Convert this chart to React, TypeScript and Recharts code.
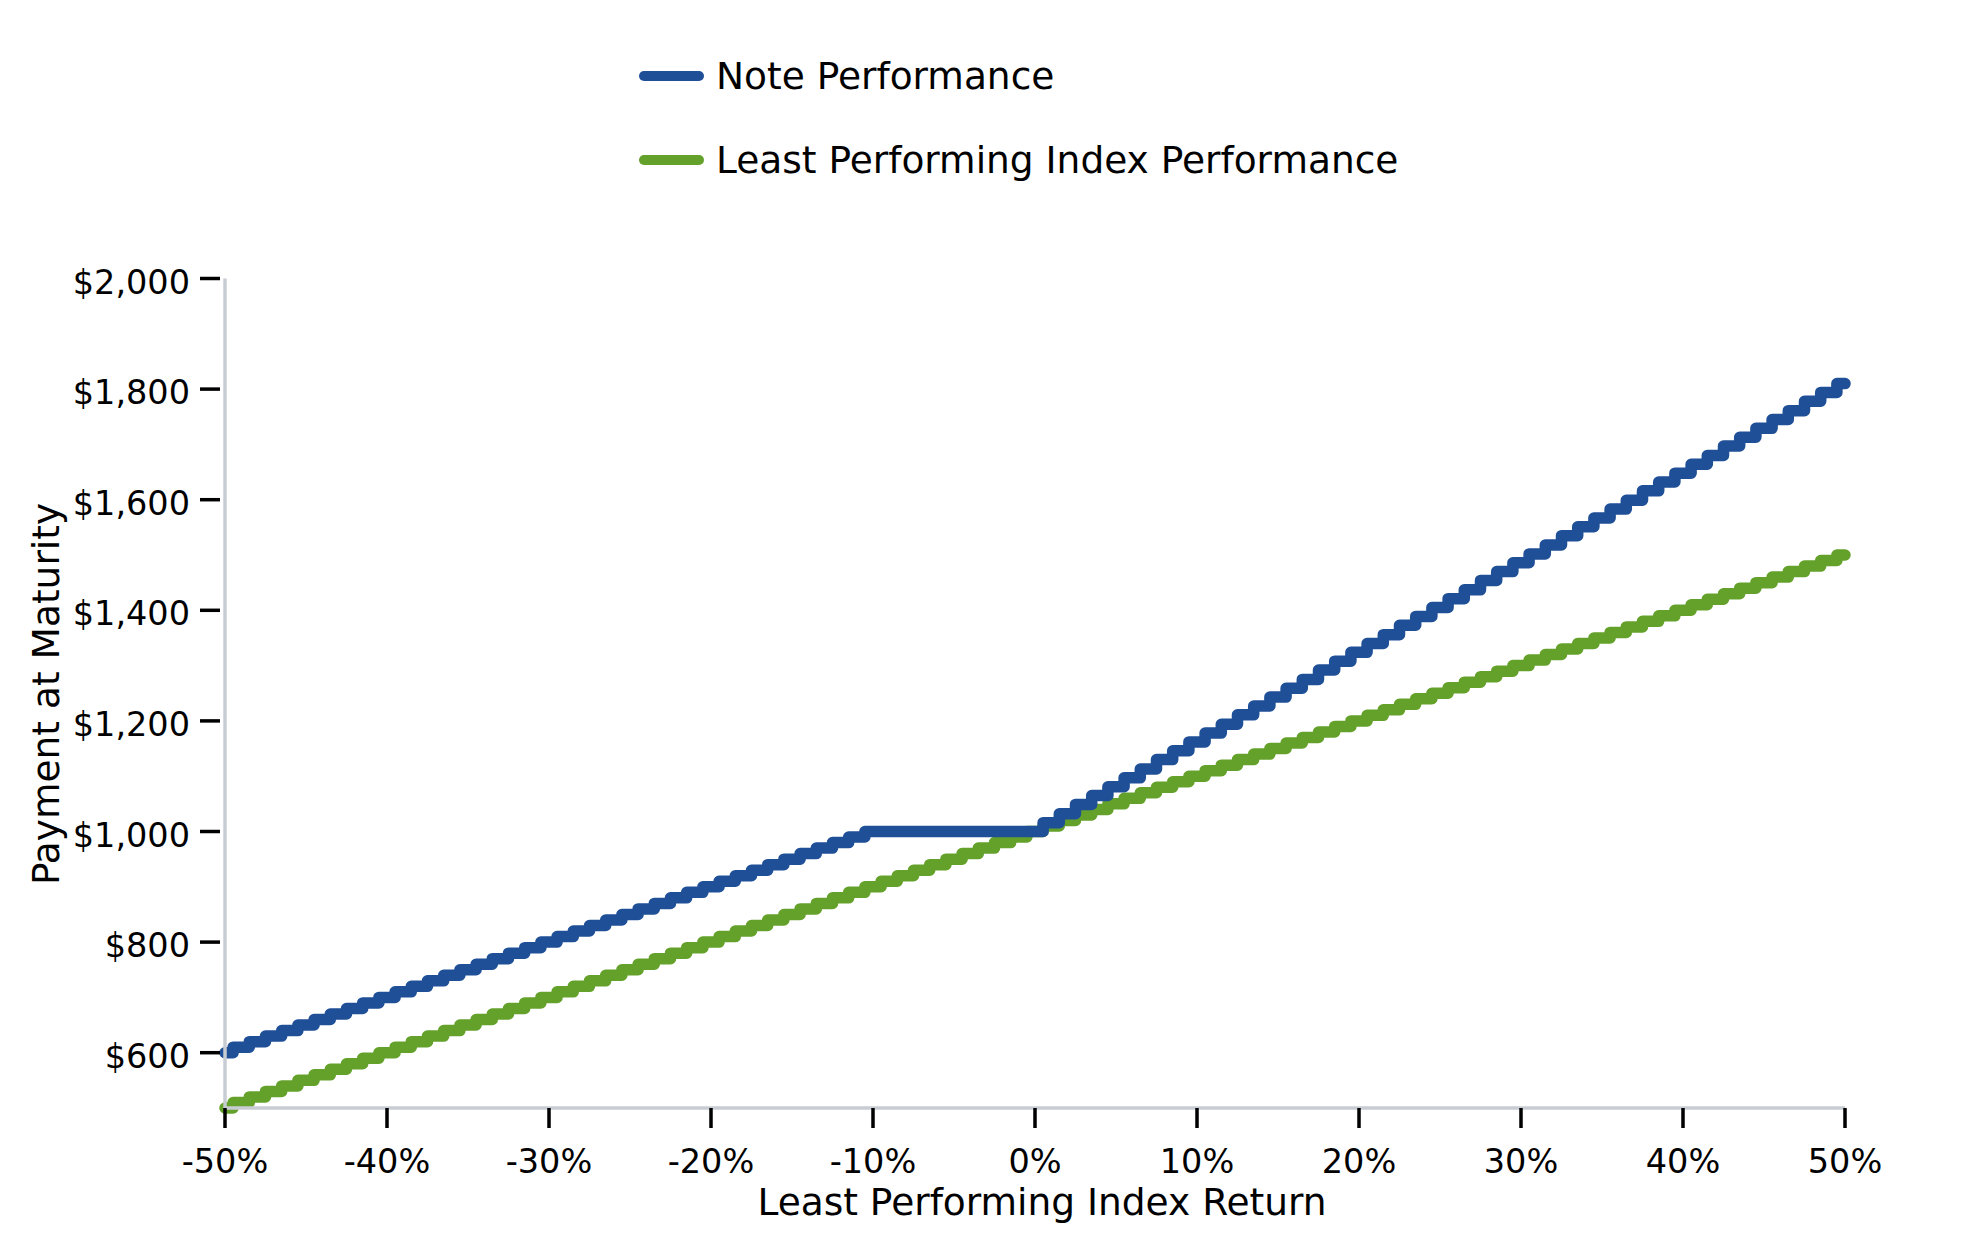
import React from "react";
import { LineChart, Line, XAxis, YAxis, Legend, Label } from "recharts";

// Least performing index return, in percent
const returns = [
  -50, -49, -48, -47, -46, -45, -44, -43, -42, -41,
  -40, -39, -38, -37, -36, -35, -34, -33, -32, -31,
  -30, -29, -28, -27, -26, -25, -24, -23, -22, -21,
  -20, -19, -18, -17, -16, -15, -14, -13, -12, -11,
  -10, -9, -8, -7, -6, -5, -4, -3, -2, -1,
  0, 1, 2, 3, 4, 5, 6, 7, 8, 9,
  10, 11, 12, 13, 14, 15, 16, 17, 18, 19,
  20, 21, 22, 23, 24, 25, 26, 27, 28, 29,
  30, 31, 32, 33, 34, 35, 36, 37, 38, 39,
  40, 41, 42, 43, 44, 45, 46, 47, 48, 49,
  50,
];

const notePayment = [
  600, 610, 620, 630, 640, 650, 660, 670, 680, 690,
  700, 710, 720, 730, 740, 750, 760, 770, 780, 790,
  800, 810, 820, 830, 840, 850, 860, 870, 880, 890,
  900, 910, 920, 930, 940, 950, 960, 970, 980, 990,
  1000, 1000, 1000, 1000, 1000, 1000, 1000, 1000, 1000, 1000,
  1000, 1016, 1032, 1049, 1065, 1081, 1097, 1113, 1130, 1146,
  1162, 1178, 1194, 1211, 1227, 1243, 1259, 1275, 1292, 1308,
  1324, 1340, 1356, 1373, 1389, 1405, 1421, 1437, 1454, 1470,
  1486, 1502, 1518, 1535, 1551, 1567, 1583, 1599, 1616, 1632,
  1648, 1664, 1680, 1697, 1713, 1729, 1745, 1761, 1778, 1794,
  1810,
];

const indexPayment = [
  500, 510, 520, 530, 540, 550, 560, 570, 580, 590,
  600, 610, 620, 630, 640, 650, 660, 670, 680, 690,
  700, 710, 720, 730, 740, 750, 760, 770, 780, 790,
  800, 810, 820, 830, 840, 850, 860, 870, 880, 890,
  900, 910, 920, 930, 940, 950, 960, 970, 980, 990,
  1000, 1010, 1020, 1030, 1040, 1050, 1060, 1070, 1080, 1090,
  1100, 1110, 1120, 1130, 1140, 1150, 1160, 1170, 1180, 1190,
  1200, 1210, 1220, 1230, 1240, 1250, 1260, 1270, 1280, 1290,
  1300, 1310, 1320, 1330, 1340, 1350, 1360, 1370, 1380, 1390,
  1400, 1410, 1420, 1430, 1440, 1450, 1460, 1470, 1480, 1490,
  1500,
];

const xTicks = [-50, -40, -30, -20, -10, 0, 10, 20, 30, 40, 50];
const yTicks = [600, 800, 1000, 1200, 1400, 1600, 1800, 2000];

const BLUE = "#1f4f97";
const GREEN = "#63a12a";
const SPINE = "#c8cdd3";
const FONT = "DejaVu Sans";

const legendItems = [
  { name: "Note Performance", color: BLUE },
  { name: "Least Performing Index Performance", color: GREEN },
];

const data = returns.map((r, i) => ({
  ret: r,
  note: notePayment[i],
  index: indexPayment[i],
}));

function fmtMoney(v: number) {
  return "$" + v.toLocaleString("en-US");
}

function YTick(props: any) {
  const { x, y, payload } = props;
  return (
    <text x={x} y={y + 15} textAnchor="end" fontFamily={FONT} fontSize={33.5} fill="#000">
      {fmtMoney(payload.value)}
    </text>
  );
}

function XTick(props: any) {
  const { x, y, payload } = props;
  return (
    <text x={x} y={y + 24} textAnchor="middle" fontFamily={FONT} fontSize={33.5} fill="#000">
      {payload.value}%
    </text>
  );
}

function renderLegend() {
  return (
    <svg width={900} height={200}>
      {legendItems.map((item, i) => {
        const cy = 76 + i * 84;
        return (
          <g key={item.name}>
            <line x1={44} x2={99} y1={cy} y2={cy} stroke={item.color} strokeWidth={10} strokeLinecap="round" />
            <text x={116} y={cy + 13} fontFamily={FONT} fontSize={37.5} fill="#000">
              {item.name}
            </text>
          </g>
        );
      })}
    </svg>
  );
}

export default function App() {
  return (
    <div style={{ position: "absolute", left: 0, top: 0, width: 1979, height: 1250, background: "#fff" }}>
      <LineChart
        width={1979}
        height={1250}
        data={data}
        margin={{ top: 278.5, right: 134, bottom: 0, left: 0 }}
      >
        <XAxis
          dataKey="ret"
          type="number"
          domain={[-50, 50]}
          ticks={xTicks}
          height={142}
          tickSize={25}
          tickMargin={16}
          axisLine={{ stroke: SPINE, strokeWidth: 3.5 }}
          tickLine={{ stroke: "#000", strokeWidth: 3.5, strokeDasharray: "0 5 20 100" }}
          tick={<XTick />}
        >
          <Label
            content={() => (
              <text x={1042} y={1215} textAnchor="middle" fontFamily={FONT} fontSize={37.5} fill="#000">
                Least Performing Index Return
              </text>
            )}
          />
        </XAxis>
        <YAxis
          type="number"
          domain={[500, 2000]}
          ticks={yTicks}
          width={225}
          tickSize={25}
          tickMargin={10}
          axisLine={{ stroke: SPINE, strokeWidth: 3.5 }}
          tickLine={{ stroke: "#000", strokeWidth: 3.5, strokeDasharray: "20 100" }}
          tick={<YTick />}
        >
          <Label
            content={() => (
              <text
                transform="rotate(-90)"
                x={-694}
                y={59}
                textAnchor="middle"
                fontFamily={FONT}
                fontSize={37.5}
                fill="#000"
              >
                Payment at Maturity
              </text>
            )}
          />
        </YAxis>
        <Legend
          layout="vertical"
          align="center"
          verticalAlign="middle"
          content={renderLegend}
          wrapperStyle={{ left: 600, top: 0, width: 900, height: 200 }}
        />
        <Line
          type="step"
          dataKey="index"
          name="Least Performing Index Performance"
          stroke={GREEN}
          strokeWidth={11.5}
          strokeLinejoin="round"
          strokeLinecap="round"
          dot={false}
          activeDot={false}
          isAnimationActive={false}
        />
        <Line
          type="step"
          dataKey="note"
          name="Note Performance"
          stroke={BLUE}
          strokeWidth={11.5}
          strokeLinejoin="round"
          strokeLinecap="round"
          dot={false}
          activeDot={false}
          isAnimationActive={false}
        />
      </LineChart>
    </div>
  );
}
